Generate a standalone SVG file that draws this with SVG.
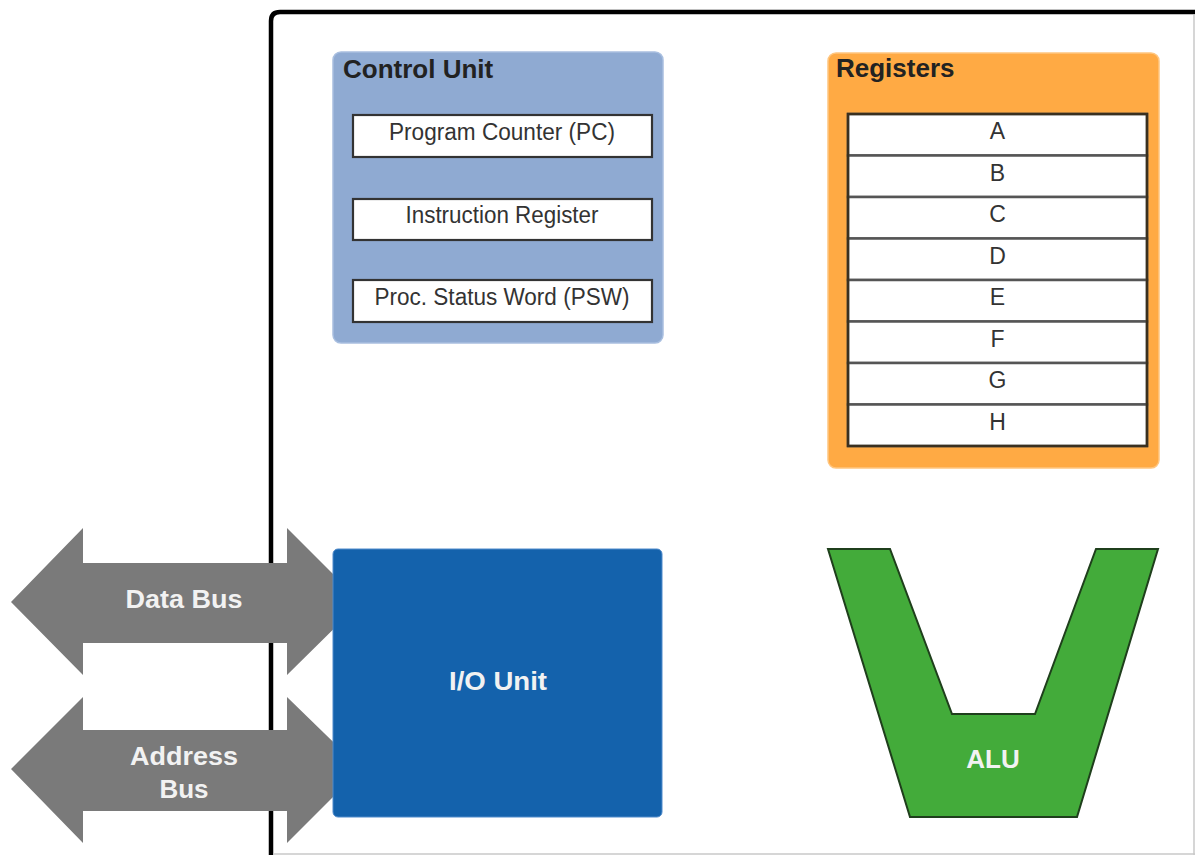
<svg xmlns="http://www.w3.org/2000/svg" width="1195" height="855" viewBox="0 0 1195 855">
<style>
.t{font-family:"Liberation Sans",Arial,sans-serif}
.h{font-family:"Liberation Sans",Arial,sans-serif;font-weight:bold;font-size:26px;fill:#222}
.w{font-family:"Liberation Sans",Arial,sans-serif;font-weight:bold;font-size:26px;fill:#f2f2f2;text-anchor:middle}
.box{fill:#fff;stroke:#333;stroke-width:2.2}
.lbl{font-family:"Liberation Sans",Arial,sans-serif;font-size:23px;fill:#333;text-anchor:middle}
.reg{fill:#fff;stroke:#555;stroke-width:2.5}
.bus{fill:#7a7a7a}
</style>
<rect x="0" y="0" width="1195" height="855" fill="#fff"/>
<g id="frame">
<path d="M271,860 V21 Q271,12 280,12 H1200" fill="none" stroke="#000" stroke-width="4.5"/>
<line x1="1194" y1="15" x2="1194" y2="855" stroke="#c8c8c8" stroke-width="1.5"/>
<line x1="273" y1="854" x2="1195" y2="854" stroke="#c8c8c8" stroke-width="1.5"/>
</g>
<g id="control-unit">
<rect x="333" y="52" width="330" height="291" rx="8" fill="#8faad2" stroke="#a9bfe0" stroke-width="1.5"/>
<text class="h" x="343" y="78">Control Unit</text>
<g id="pc">
<rect class="box" x="353" y="115" width="299" height="42"/>
<text class="lbl" x="502" y="140" textLength="226" lengthAdjust="spacingAndGlyphs">Program Counter (PC)</text>
</g>
<g id="ir">
<rect class="box" x="353" y="199" width="299" height="41"/>
<text class="lbl" x="502" y="223" textLength="193" lengthAdjust="spacingAndGlyphs">Instruction Register</text>
</g>
<g id="psw">
<rect class="box" x="353" y="280" width="299" height="42"/>
<text class="lbl" x="502" y="305" textLength="255" lengthAdjust="spacingAndGlyphs">Proc. Status Word (PSW)</text>
</g>
</g>
<g id="registers">
<rect x="828" y="53" width="331" height="415" rx="8" fill="#ffaa44" stroke="#ffc680" stroke-width="1.5"/>
<text class="h" x="836" y="77">Registers</text>
<g id="reg-a"><rect class="reg" x="848" y="114" width="299" height="41.5"/><text class="lbl" x="997.5" y="139">A</text></g>
<g id="reg-b"><rect class="reg" x="848" y="155.5" width="299" height="41.5"/><text class="lbl" x="997.5" y="180.5">B</text></g>
<g id="reg-c"><rect class="reg" x="848" y="197" width="299" height="41.5"/><text class="lbl" x="997.5" y="222">C</text></g>
<g id="reg-d"><rect class="reg" x="848" y="238.5" width="299" height="41.5"/><text class="lbl" x="997.5" y="263.5">D</text></g>
<g id="reg-e"><rect class="reg" x="848" y="280" width="299" height="41.5"/><text class="lbl" x="997.5" y="305">E</text></g>
<g id="reg-f"><rect class="reg" x="848" y="321.5" width="299" height="41.5"/><text class="lbl" x="997.5" y="346.5">F</text></g>
<g id="reg-g"><rect class="reg" x="848" y="363" width="299" height="41.5"/><text class="lbl" x="997.5" y="388">G</text></g>
<g id="reg-h"><rect class="reg" x="848" y="404.5" width="299" height="41.5"/><text class="lbl" x="997.5" y="429.5">H</text></g>
<rect x="848" y="114" width="299" height="332" fill="none" stroke="#3a3020" stroke-width="2.5"/>
</g>
<g id="connectors">
<g id="data-bus">
<polygon class="bus" points="11,602 83,528 83,563 287,563 287,528 361,602 287,675 287,643 83,643 83,675"/>
<text class="w" x="184" y="608" textLength="117" lengthAdjust="spacingAndGlyphs">Data Bus</text>
</g>
<g id="address-bus">
<polygon class="bus" points="11,769 83,697 83,730 287,730 287,697 361,769 287,843 287,811 83,811 83,843"/>
<text class="w" x="184" y="765" textLength="108" lengthAdjust="spacingAndGlyphs">Address</text>
<text class="w" x="184" y="798">Bus</text>
</g>
</g>
<g id="io-unit">
<rect x="333" y="549" width="329" height="268" rx="5" fill="#1462ac" stroke="#4f8acb" stroke-width="1"/>
<text class="w" x="498" y="690" textLength="98" lengthAdjust="spacingAndGlyphs">I/O Unit</text>
</g>
<g id="alu">
<polygon points="828,549 890,549 952,714 1035,714 1096,549 1158,549 1077,817 910,817" fill="#43ab3a" stroke="#1f3f1c" stroke-width="2"/>
<text class="w" x="993" y="768">ALU</text>
</g>
</svg>
